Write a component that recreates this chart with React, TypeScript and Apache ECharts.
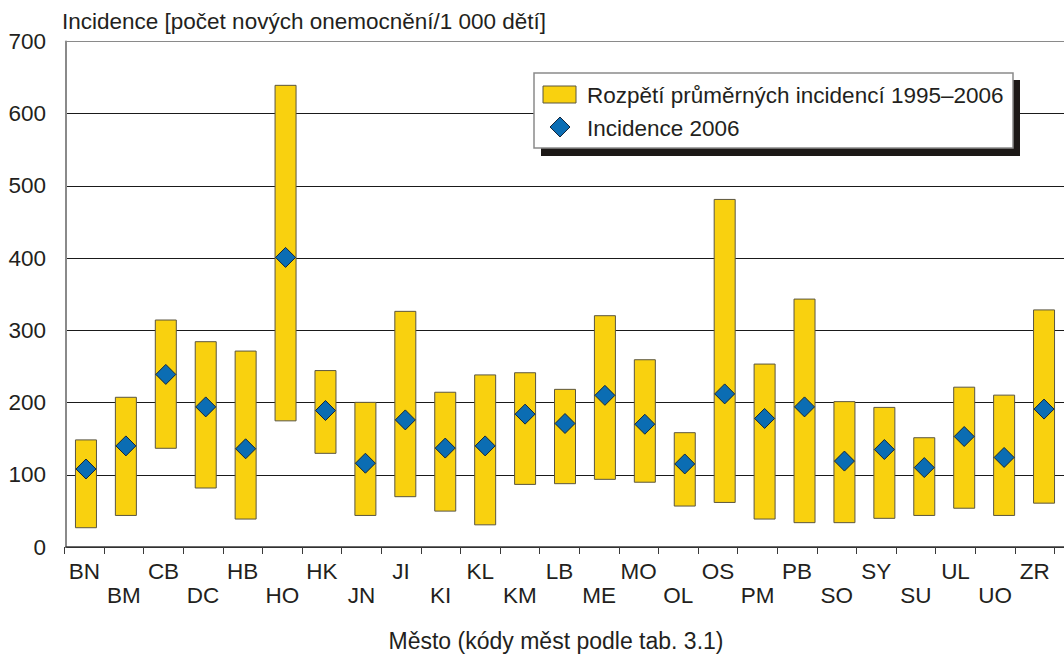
import React, { useEffect, useRef } from "react";
import * as echarts from "echarts";

const categories = ["BN","BM","CB","DC","HB","HO","HK","JN","JI","KI","KL","KM","LB","ME","MO","OL","OS","PM","PB","SO","SY","SU","UL","UO","ZR"];
const rangeMin = [26,43,136,81,38,174,129,43,69,49,30,86,87,93,89,56,61,38,33,33,39,43,53,43,60];
const rangeMax = [149,208,315,285,272,640,245,201,327,215,239,242,219,321,260,159,482,254,344,202,194,152,222,211,329];
const incidence2006 = [108,140,239,194,136,401,189,116,176,137,140,184,171,210,170,115,212,178,194,119,135,110,153,124,191];
const yTicks = [0,100,200,300,400,500,600,700];

const yAxisTitle = "Incidence [počet nových onemocnění/1 000 dětí]";
const xAxisTitle = "Město (kódy měst podle tab. 3.1)";
const legendRange = "Rozpětí průměrných incidencí 1995–2006";
const legendPoint = "Incidence 2006";

const FONT = "'Liberation Sans', Arial, sans-serif";
const TXT = "#231f20";
const YELLOW = "#f9d10f";
const BLUE = "#0b6db3";

export default function App() {
  const ref = useRef<HTMLDivElement>(null);
  useEffect(() => {
    if (!ref.current) return;
    const chart = echarts.init(ref.current, undefined, { renderer: "svg" });
    const spans = rangeMax.map((v, i) => v - rangeMin[i]);
    const option: any = {
      animation: false,
      backgroundColor: "#fff",
      textStyle: { fontFamily: FONT },
      grid: [
        { left: 66, width: 1000, top: 41.5, height: 505.5 },
        { left: 64.5, width: 990, top: 41.5, height: 505.5 },
      ],
      xAxis: [
        {
          type: "category",
          gridIndex: 0,
          data: categories,
          boundaryGap: true,
          axisLine: { show: true, lineStyle: { color: "#3a3a3a", width: 1.5 } },
          axisTick: { show: false },
          axisLabel: { show: false },
          splitLine: { show: false },
        },
        {
          type: "category",
          gridIndex: 1,
          data: categories,
          boundaryGap: true,
          axisLine: { show: false },
          axisTick: { show: true, length: 7, lineStyle: { color: "#3a3a3a", width: 1 } },
          axisLabel: {
            show: true,
            interval: 0,
            margin: 13,
            fontSize: 22.5,
            lineHeight: 23.5,
            color: TXT,
            fontFamily: FONT,
            formatter: (v: string, i: number) => (i % 2 === 1 ? "\n" + v : v),
          },
          splitLine: { show: false },
        },
      ],
      yAxis: [
        {
          type: "value",
          gridIndex: 0,
          min: yTicks[0],
          max: yTicks[yTicks.length - 1],
          interval: 100,
          axisLine: { show: true, lineStyle: { color: "#8a8a8a", width: 2 } },
          axisTick: { show: false },
          axisLabel: { fontSize: 22.5, color: TXT, margin: 20, fontFamily: FONT },
          splitLine: {
            show: true,
            lineStyle: {
              color: ["#1a1a1a", "#1a1a1a", "#1a1a1a", "#1a1a1a", "#1a1a1a", "#1a1a1a", "#1a1a1a", "#8a8a8a"],
              width: 1,
            },
          },
        },
        {
          type: "value",
          gridIndex: 1,
          min: 0,
          max: 700,
          interval: 100,
          show: false,
        },
      ],
      series: [
        {
          type: "bar",
          name: "base",
          xAxisIndex: 0,
          yAxisIndex: 0,
          stack: "range",
          barWidth: 22,
          data: rangeMin,
          itemStyle: { color: "rgba(0,0,0,0)" },
          silent: true,
        },
        {
          type: "bar",
          name: legendRange,
          xAxisIndex: 0,
          yAxisIndex: 0,
          stack: "range",
          barWidth: 22,
          data: spans,
          itemStyle: { color: YELLOW, borderColor: "#5b5640", borderWidth: 1 },
        },
        {
          type: "scatter",
          name: legendPoint,
          xAxisIndex: 0,
          yAxisIndex: 0,
          symbol: "diamond",
          symbolSize: 20,
          data: incidence2006,
          itemStyle: { color: BLUE, borderColor: "#14253a", borderWidth: 1, opacity: 1 },
          z: 5,
        },
      ],
      graphic: [
        {
          type: "text",
          x: 62,
          y: 21,
          style: { text: yAxisTitle, font: `22.5px ${FONT}`, fill: TXT, textVerticalAlign: "middle" },
        },
        {
          type: "text",
          x: 556,
          y: 641,
          style: { text: xAxisTitle, font: `23px ${FONT}`, fill: TXT, textAlign: "center", textVerticalAlign: "middle" },
        },
        {
          type: "rect",
          shape: { x: 541, y: 80, width: 479, height: 76 },
          style: { fill: "#1c1816" },
          z: 10,
        },
        {
          type: "rect",
          shape: { x: 534, y: 73, width: 479, height: 75 },
          style: { fill: "#fff", stroke: "#8a8a8a", lineWidth: 1.5 },
          z: 11,
        },
        {
          type: "rect",
          shape: { x: 543, y: 86, width: 33, height: 17 },
          style: { fill: YELLOW, stroke: "#5b5640", lineWidth: 1 },
          z: 12,
        },
        {
          type: "polygon",
          shape: { points: [[560, 117], [570, 127], [560, 137], [550, 127]] },
          style: { fill: BLUE, stroke: "#14253a", lineWidth: 1 },
          z: 12,
        },
        {
          type: "text",
          x: 587,
          y: 95,
          style: { text: legendRange, font: `22.5px ${FONT}`, fill: TXT, textVerticalAlign: "middle" },
          z: 12,
        },
        {
          type: "text",
          x: 587,
          y: 128,
          style: { text: legendPoint, font: `22.5px ${FONT}`, fill: TXT, textVerticalAlign: "middle" },
          z: 12,
        },
      ],
    };
    chart.setOption(option);
    return () => chart.dispose();
  }, []);
  return (
    <div
      ref={ref}
      style={{ position: "fixed", left: 0, top: 0, width: 1064, height: 654, background: "#fff" }}
    />
  );
}
